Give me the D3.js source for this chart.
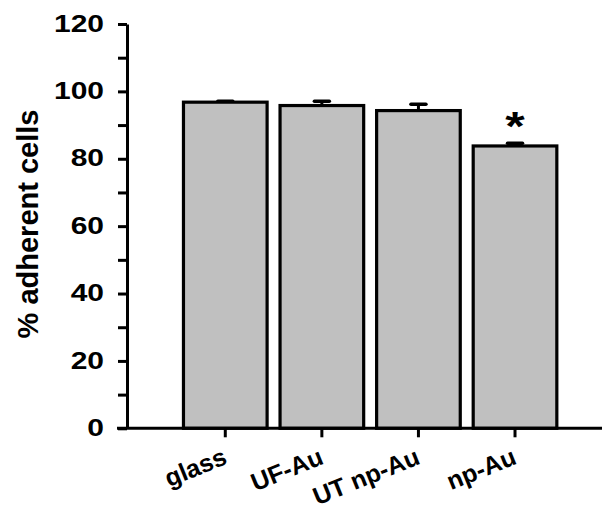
<!DOCTYPE html>
<html><head><meta charset="utf-8">
<script src="https://cdn.jsdelivr.net/npm/d3@7"></script>
<style>
body{margin:0;background:#fff;}
text{font-family:"Liberation Sans",Arial,sans-serif;font-weight:bold;fill:#000;}
</style></head>
<body><div id="chart"></div>
<script>
const categories = ["glass", "UF-Au", "UT np-Au", "np-Au"];
const values = [96.8, 95.8, 94.3, 83.8];
const errors = [0.3, 1.3, 1.9, 0.8];
const significant = [false, false, false, true];
const yTicks = [0, 10, 20, 30, 40, 50, 60, 70, 80, 90, 100, 110, 120];
const yTitle = "% adherent cells";

const W = 602, H = 509;
const svg = d3.select("#chart").append("svg").attr("width", W).attr("height", H);

const y = d3.scaleLinear().domain([0, 120]).range([428.3, 24]);
const x = d3.scaleBand().domain(categories).range([177, 563.3]).paddingInner(0.134).paddingOuter(0.067);
const axisX = 127;

// bars
svg.selectAll("rect.bar").data(values).join("rect")
  .attr("class", "bar")
  .attr("x", (d, i) => x(categories[i]))
  .attr("width", x.bandwidth())
  .attr("y", d => y(d))
  .attr("height", d => y(0) - y(d))
  .attr("fill", "#c0c0c0")
  .attr("stroke", "#000")
  .attr("stroke-width", 3.2);

// error bars (upper only)
const eb = svg.selectAll("g.err").data(values).join("g").attr("class", "err");
eb.append("line")
  .attr("x1", (d, i) => x(categories[i]) + x.bandwidth() / 2)
  .attr("x2", (d, i) => x(categories[i]) + x.bandwidth() / 2)
  .attr("y1", d => y(d))
  .attr("y2", (d, i) => y(d + errors[i]))
  .attr("stroke", "#000").attr("stroke-width", 3);
eb.append("line")
  .attr("x1", (d, i) => x(categories[i]) + x.bandwidth() / 2 - 7.5)
  .attr("x2", (d, i) => x(categories[i]) + x.bandwidth() / 2 + 7.5)
  .attr("y1", (d, i) => y(d + errors[i]))
  .attr("y2", (d, i) => y(d + errors[i]))
  .attr("stroke", "#000").attr("stroke-width", 3.5).attr("stroke-linecap", "round");

// significance asterisk
const sigData = categories.map((c, i) => ({c: c, v: values[i], e: errors[i], s: significant[i]})).filter(d => d.s);
svg.selectAll("text.sig").data(sigData).join("text")
  .attr("class", "sig")
  .attr("text-anchor", "middle")
  .attr("font-size", 40)
  .attr("transform", d => `translate(${x(d.c) + x.bandwidth() / 2},${y(d.v + d.e) - 3}) scale(1.25,1)`)
  .text("*");

// y axis
const yAxis = d3.axisLeft(y).tickValues(yTicks).tickSize(9).tickSizeOuter(0)
  .tickFormat(d => d % 20 === 0 ? d : "");
const gy = svg.append("g").attr("transform", `translate(${axisX},0)`).call(yAxis);
gy.select(".domain").attr("stroke", "#000").attr("stroke-width", 3);
gy.selectAll(".tick line").attr("stroke", "#000").attr("stroke-width", 3);
gy.selectAll(".tick text")
  .attr("x", 0).attr("dy", "0.3em")
  .attr("font-size", 24)
  .attr("font-family", "Liberation Sans, Arial, sans-serif")
  .attr("font-weight", "bold")
  .attr("text-anchor", "end")
  .attr("transform", "translate(-23,0) scale(1.25,1)");

// x axis
const xAxis = d3.axisBottom(x).tickSize(9).tickSizeOuter(0).tickFormat("");
const gx = svg.append("g").attr("transform", `translate(0,${y(0)})`).call(xAxis);
gx.select(".domain").remove();
gx.selectAll(".tick line").attr("stroke", "#000").attr("stroke-width", 3);
gx.append("line").attr("x1", 117).attr("x2", 602).attr("y1", 0).attr("y2", 0)
  .attr("stroke", "#000").attr("stroke-width", 3);
gx.selectAll(".tick").append("text")
  .attr("text-anchor", "end")
  .attr("font-size", 25)
  .attr("font-family", "Liberation Sans, Arial, sans-serif")
  .attr("font-weight", "bold")
  .attr("transform", "translate(3,35) rotate(-22)")
  .text(d => d);

// y title
svg.append("text")
  .attr("text-anchor", "middle")
  .attr("font-size", 29)
  .attr("transform", "translate(38,224) rotate(-90)")
  .text(yTitle);
</script>
</body></html>
